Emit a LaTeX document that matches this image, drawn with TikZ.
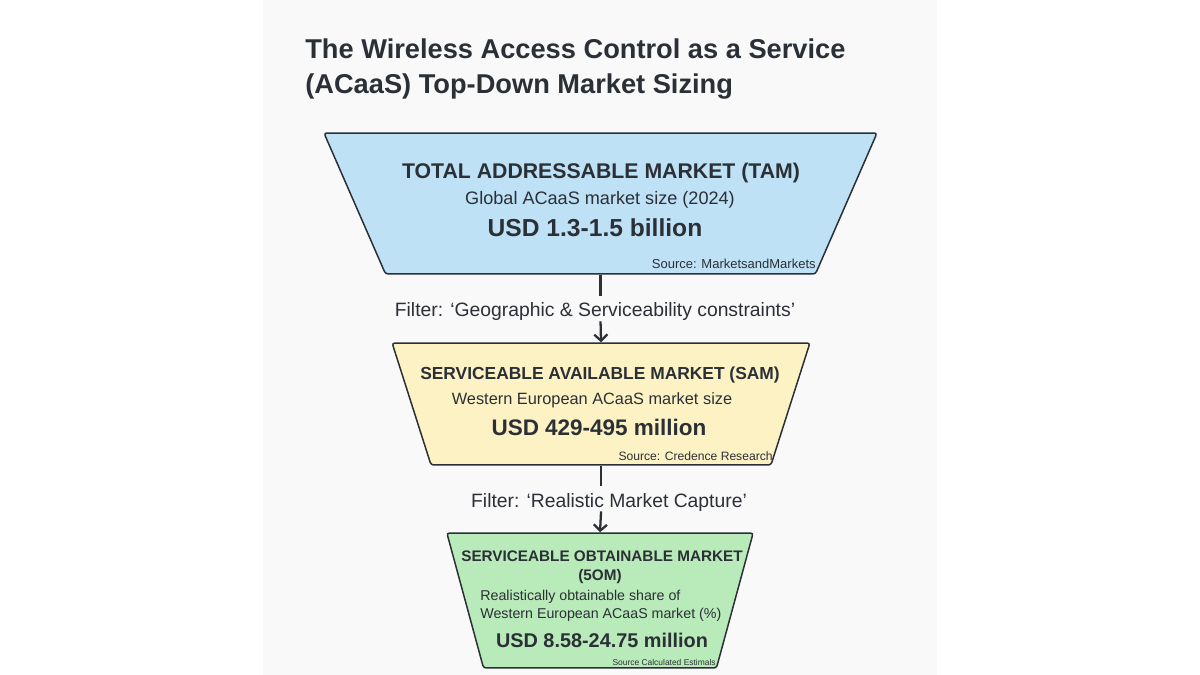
\documentclass[tikz,border=0pt]{standalone}
\usepackage{fontspec}
\setmainfont{Liberation Sans}
\usetikzlibrary{shapes.geometric,arrows.meta,positioning}
\definecolor{ink}{HTML}{2B2F36}
\definecolor{panel}{HTML}{F9F9FA}
\definecolor{tamfill}{HTML}{BEE1F6}
\definecolor{samfill}{HTML}{FCF2C4}
\definecolor{somfill}{HTML}{B9EAB9}
\newcommand{\fsize}[2]{\fontsize{#1pt}{#2pt}\selectfont}

\begin{document}
\begin{tikzpicture}[x=0.02cm, y=-0.02cm, >={Straight Barb[length=3.5pt,width=7.5pt]},
  txt/.style={anchor=base, inner sep=0pt, text=ink},
  funnel/.style={trapezium, shape border rotate=180, draw=ink, line width=0.85pt,
    rounded corners=1.5pt, inner sep=0pt, text depth=0pt},
  filt/.style={anchor=base, inner sep=0pt, text height=11.9pt, text depth=2.3pt,
    text=ink, font=\fsize{11}{13}},
  link/.style={draw=ink, line width=1.3pt}]
  % page and panel
  \fill[white] (0,0) rectangle (1200,675);
  \fill[panel] (263,0) rectangle (937,675);

  % title
  \node[txt, anchor=base west, font=\fsize{15.5}{19}\bfseries] (title1) at (305,59) {The Wireless Access Control as a Service};
  \node[txt, anchor=base west, font=\fsize{15.5}{19}\bfseries] (title2) at (305,94) {(ACaaS) Top-Down Market Sizing};

  % funnel stages
  \node[funnel, fill=tamfill, text width=8.6cm, text height=2.82cm, trapezium angle=66.4] (tam) at (600.5,203.5) {};
  \node[funnel, fill=samfill, text width=6.8cm, text height=2.44cm, trapezium angle=72.3] (sam) at (601,404) {};
  \node[funnel, fill=somfill, text width=4.66cm, text height=2.7cm, trapezium angle=74.8] (som) at (600,600.5) {};

  % TAM
  \node[txt, font=\fsize{12.1}{14}\bfseries] (tamhead) at (601,178.5) {TOTAL ADDRESSABLE MARKET (TAM)};
  \node[txt, font=\fsize{10.3}{12}] (tamsub) at (600,205) {Global ACaaS market size (2024)};
  \node[txt, font=\fsize{14}{16}\bfseries] (tamval) at (595,237) {USD 1.3-1.5 billion};
  \node[txt, anchor=base east, font=\fsize{7.4}{9}] (tamsrc) at (816,268.5) {Source: MarketsandMarkets};

  % SAM
  \node[txt, font=\fsize{9.9}{12}\bfseries] (samhead) at (600,379) {SERVICEABLE AVAILABLE MARKET (SAM)};
  \node[txt, font=\fsize{9.3}{11}] (samsub) at (592,404.5) {Western European ACaaS market size};
  \node[txt, font=\fsize{12.8}{15}\bfseries] (samval) at (599,435.5) {USD 429-495 million};
  \node[txt, anchor=base east, font=\fsize{6.9}{8}] (samsrc) at (773,460) {Source: Credence Research};

  % SOM
  \node[txt, font=\fsize{8.7}{10}\bfseries] (somhead) at (602,561.5) {SERVICEABLE OBTAINABLE MARKET};
  \node[txt, font=\fsize{8.7}{10}\bfseries] (somtag) at (600,580.5) {(5OM)};
  \node[txt, anchor=base west, font=\fsize{8.1}{10}] (somsub1) at (480,600.5) {Realistically obtainable share of};
  \node[txt, anchor=base west, font=\fsize{8.1}{10}] (somsub2) at (480,618.5) {Western European ACaaS market (\%)};
  \node[txt, font=\fsize{11.3}{13}\bfseries] (somval) at (602,647) {USD 8.58-24.75 million};
  \node[txt, anchor=base east, font=\fsize{4.8}{6}] (somsrc) at (716,665) {Source Calculated Estimals};

  % filters between stages
  \node[filt] (f1) at (595,317) {Filter: ‘Geographic \& Serviceability constraints’};
  \node[filt] (f2) at (609,507) {Filter: ‘Realistic Market Capture’};

  \draw[link] (tam.south) -- (tam.south |- f1.north);
  \draw[link,->] (tam.south |- f1.south) -- (sam.north);
  \draw[link] (sam.south) -- (sam.south |- f2.north);
  \draw[link,->] (sam.south |- f2.south) -- (som.north);
\end{tikzpicture}
\end{document}
